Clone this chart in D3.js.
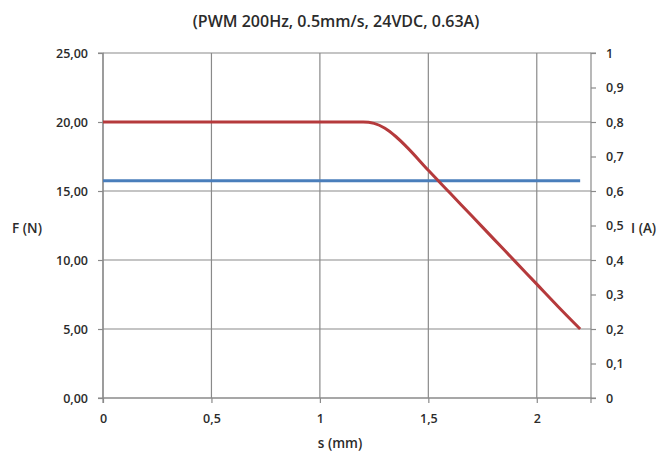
<!DOCTYPE html>
<html>
<head>
<meta charset="utf-8">
<script src="https://cdn.jsdelivr.net/npm/d3@7"></script>
<style>
  html, body { margin: 0; padding: 0; background: #fff; }
  svg { display: block; }
  text { font-family: "Open Sans", "Liberation Sans", sans-serif; fill: #2b2b2b; }
</style>
</head>
<body>
<svg id="chart" width="667" height="453"></svg>
<script>
// Force/current vs. stroke for the actuator
const title = "(PWM 200Hz, 0.5mm/s, 24VDC, 0.63A)";
const strokeMm = [0, 0.2, 0.4, 0.6, 0.8, 1.0, 1.2, 1.25, 1.3, 1.35, 1.4, 1.5, 1.6, 1.7, 1.8, 1.9, 2.0, 2.1, 2.2];
const forceN   = [20, 20, 20, 20, 20, 20, 20, 19.9, 19.55, 18.95, 18.2, 16.5, 14.85, 13.2, 11.55, 9.9, 8.25, 6.6, 5.0];
const currentStroke = [0, 2.2];
const currentA      = [0.63, 0.63];
const xTicks = [0, 0.5, 1, 1.5, 2];
const fTicks = [0, 5, 10, 15, 20, 25];
const iTicks = [0, 0.1, 0.2, 0.3, 0.4, 0.5, 0.6, 0.7, 0.8, 0.9, 1];

const svg = d3.select("#chart");
const plotL = 103, plotR = 591, plotT = 53, plotB = 398;

const x = d3.scaleLinear().domain([0, 2.25]).range([plotL, plotR]);
const yF = d3.scaleLinear().domain([0, 25]).range([plotB, plotT]);
const yI = d3.scaleLinear().domain([0, 1]).range([plotB, plotT]);

const comma = v => String(v).replace(".", ",");
const gridColor = "#8a8a8a";

// Horizontal gridlines (every 5 N)
svg.append("g").selectAll("line").data(fTicks).join("line")
  .attr("x1", plotL).attr("x2", plotR)
  .attr("y1", d => yF(d)).attr("y2", d => yF(d))
  .attr("stroke", gridColor).attr("stroke-width", 1.2);

// Vertical gridlines
svg.append("g").selectAll("line").data(xTicks).join("line")
  .attr("x1", d => x(d)).attr("x2", d => x(d))
  .attr("y1", plotT).attr("y2", plotB)
  .attr("stroke", gridColor).attr("stroke-width", 1.2);

// Left axis (force)
const axL = svg.append("g").attr("transform", `translate(${plotL},0)`)
  .call(d3.axisLeft(yF).tickValues(fTicks).tickSize(5).tickPadding(10)
    .tickFormat(d => d3.format(".2f")(d).replace(".", ",")));

// Right axis (current)
const axR = svg.append("g").attr("transform", `translate(${plotR},0)`)
  .call(d3.axisRight(yI).tickValues(iTicks).tickSize(5).tickPadding(10)
    .tickFormat(d => comma(d3.format("~g")(d))));

// Bottom axis (stroke)
const axB = svg.append("g").attr("transform", `translate(0,${plotB})`)
  .call(d3.axisBottom(x).tickValues(xTicks).tickSize(5).tickPadding(11)
    .tickFormat(d => comma(d)));

[axL, axR, axB].forEach(g => {
  g.select(".domain").attr("stroke", gridColor).attr("stroke-width", 1.2);
  g.selectAll(".tick line").attr("stroke", gridColor).attr("stroke-width", 1.2);
  g.selectAll(".tick text").attr("font-size", 12.5).attr("font-weight", 600)
    .style("font-family", "'Open Sans', sans-serif").attr("fill", "#2b2b2b");
});
axL.select(".domain").attr("d", `M-5,${plotT}H0V${plotB}H-5`);
axR.select(".domain").attr("d", `M5,${plotT}H0V${plotB}H5`);
axB.select(".domain").attr("d", `M${plotL},5V0H${plotR}V5`);

// Current line
svg.append("path")
  .datum(currentStroke.map((s, i) => [s, currentA[i]]))
  .attr("fill", "none").attr("stroke", "#4a7ebb").attr("stroke-width", 3)
  .attr("d", d3.line().x(d => x(d[0])).y(d => yI(d[1])));

// Force curve
svg.append("path")
  .datum(strokeMm.map((s, i) => [s, forceN[i]]))
  .attr("fill", "none").attr("stroke", "#b53a3c").attr("stroke-width", 3)
  .attr("stroke-linejoin", "round")
  .attr("d", d3.line().curve(d3.curveMonotoneX).x(d => x(d[0])).y(d => yF(d[1])));

// Titles
svg.append("text").attr("x", 336).attr("y", 27).attr("text-anchor", "middle")
  .attr("font-size", 16).attr("font-weight", 600).text(title);
svg.append("text").attr("x", 27).attr("y", 233).attr("text-anchor", "middle")
  .attr("font-size", 13.5).attr("font-weight", 600).text("F (N)");
svg.append("text").attr("x", 631).attr("y", 233)
  .attr("font-size", 13.5).attr("font-weight", 600).text("I (A)");
svg.append("text").attr("x", 340).attr("y", 448).attr("text-anchor", "middle")
  .attr("font-size", 13.5).attr("font-weight", 600).text("s (mm)");
</script>
</body>
</html>
